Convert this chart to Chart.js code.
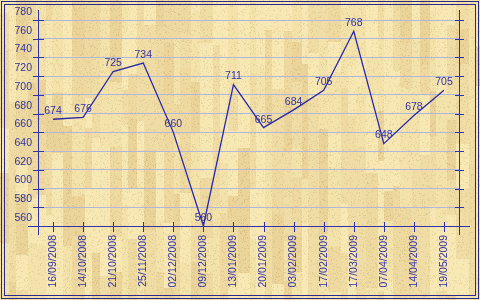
<!DOCTYPE html>
<html>
<head>
<meta charset="utf-8">
<script src="https://cdn.jsdelivr.net/npm/chart.js@4/dist/chart.umd.min.js"></script>
<style>
	html, body { margin: 0; padding: 0; background: #f0dea6; }
</style>
</head>
<body>
<canvas id="chart" width="480" height="300"></canvas>
<script>
const dates = ['16/09/2008', '14/10/2008', '21/10/2008', '25/11/2008', '02/12/2008', '09/12/2008', '13/01/2009',
	'20/01/2009', '03/02/2009', '17/02/2009', '17/03/2009', '07/04/2009', '14/04/2009', '19/05/2009'];
const values = [674, 676, 725, 734, 660, 560, 711, 665, 684, 705, 768, 648, 678, 705];
const yMin = 560, yMax = 780, yStep = 20;

const ink = '#3232a6';
const font = { family: '"Liberation Sans", Arial, sans-serif', size: 10.5 };

function line(ctx, x1, y1, x2, y2) {
	ctx.beginPath();
	ctx.moveTo(x1, y1);
	ctx.lineTo(x2, y2);
	ctx.stroke();
}

function hash(a, b) {
	let h = (a * 374761393 + b * 668265263) >>> 0;
	h = ((h ^ (h >>> 13)) * 1274126177) >>> 0;
	return (h ^ (h >>> 16)) >>> 0;
}

// wooden plank background
const planks = {
	id: 'planks',
	beforeDraw(chart) {
		const { ctx, width, height } = chart;
		const widths = [9, 7, 12, 8, 10, 6, 11, 9, 13, 7, 8, 10, 12, 6];
		const heights = [60, 35, 80, 45, 70, 50, 90, 40, 65, 30];
		const tones = ['#f8e9b4', '#f3e2aa', '#eedaa0', '#eAd499', '#f7e7b2', '#f0dda5'];
		ctx.save();
		let x = 0, col = 0;
		while (x < width) {
			const w = widths[col % widths.length];
			let y = -(hash(col, 7) % 50), seg = 0;
			while (y < height) {
				const h = heights[(col * 3 + seg) % heights.length];
				ctx.fillStyle = tones[hash(col, seg) % tones.length];
				ctx.fillRect(x, y, w, h);
				y += h;
				seg++;
			}
			x += w;
			col++;
		}
		// speckle grain
		const img = ctx.getImageData(0, 0, width, height);
		const d = img.data;
		for (let py = 0; py < height; py++) {
			for (let px = 0; px < width; px++) {
				if (hash(px, py) % 9 === 0) {
					const k = (py * width + px) * 4;
					d[k] -= 14; d[k + 1] -= 16; d[k + 2] -= 18;
				}
			}
		}
		ctx.putImageData(img, 0, 0);
		ctx.restore();
	}
};

// axes, ticks and the double frame
const frame = {
	id: 'frame',
	afterDraw(chart) {
		const { ctx, chartArea: a, scales: { x, y } } = chart;
		ctx.save();
		ctx.strokeStyle = '#3333a8';
		ctx.lineWidth = 1;
		const l = Math.round(a.left) + 0.5, r = Math.round(a.right) + 0.5, b = Math.round(a.bottom) + 0.5;
		line(ctx, l, a.top - 10, l, a.bottom + 9);
		line(ctx, r, a.top - 10, r, a.bottom + 9);
		line(ctx, a.left - 10, b, a.right + 11, b);
		y.ticks.forEach((t, i) => {
			const py = Math.round(y.getPixelForTick(i)) + 0.5;
			line(ctx, a.left - 5, py, a.left + 6, py);
			line(ctx, a.right - 4, py, a.right + 5, py);
		});
		x.ticks.forEach((t, i) => {
			const px = Math.round(x.getPixelForTick(i)) + 0.5;
			line(ctx, px, a.bottom - 4, px, a.bottom + 6);
		});
		ctx.strokeStyle = '#2a2a8e';
		ctx.strokeRect(1.5, 1.5, 477, 297);
		ctx.strokeRect(4.5, 4.5, 471, 291);
		ctx.restore();
	}
};

// value labels above each point
const valueLabels = {
	id: 'valueLabels',
	afterDatasetsDraw(chart) {
		const { ctx } = chart;
		const meta = chart.getDatasetMeta(0);
		ctx.save();
		ctx.fillStyle = ink;
		ctx.font = font.size + 'px ' + font.family;
		ctx.textAlign = 'center';
		ctx.textBaseline = 'middle';
		meta.data.forEach((pt, i) => {
			ctx.fillText(values[i], pt.x, pt.y - 8);
		});
		ctx.restore();
	}
};

new Chart(document.getElementById('chart'), {
	type: 'line',
	data: {
		labels: dates,
		datasets: [{
			data: values,
			borderColor: '#2828aa',
			borderWidth: 1.3,
			pointRadius: 0,
			tension: 0,
			fill: false
		}]
	},
	options: {
		responsive: false,
		animation: false,
		layout: { padding: { left: 0, top: 20, right: 21, bottom: 0 } },
		plugins: { legend: { display: false }, tooltip: { enabled: false } },
		scales: {
			x: {
				offset: true,
				grid: { display: false },
				border: { display: false },
				ticks: {
					color: ink, font: font,
					minRotation: 90, maxRotation: 90,
					padding: 1, autoSkip: false
				},
				afterFit(scale) { scale.height = 74; }
			},
			y: {
				min: yMin, max: yMax,
				grid: { color: '#b2b6dc', drawTicks: false },
				border: { display: false },
				ticks: {
					stepSize: yStep, color: ink, font: font,
					padding: 6, labelOffset: -8
				},
				afterFit(scale) { scale.width = 38; }
			}
		}
	},
	plugins: [planks, frame, valueLabels]
});
</script>
</body>
</html>
